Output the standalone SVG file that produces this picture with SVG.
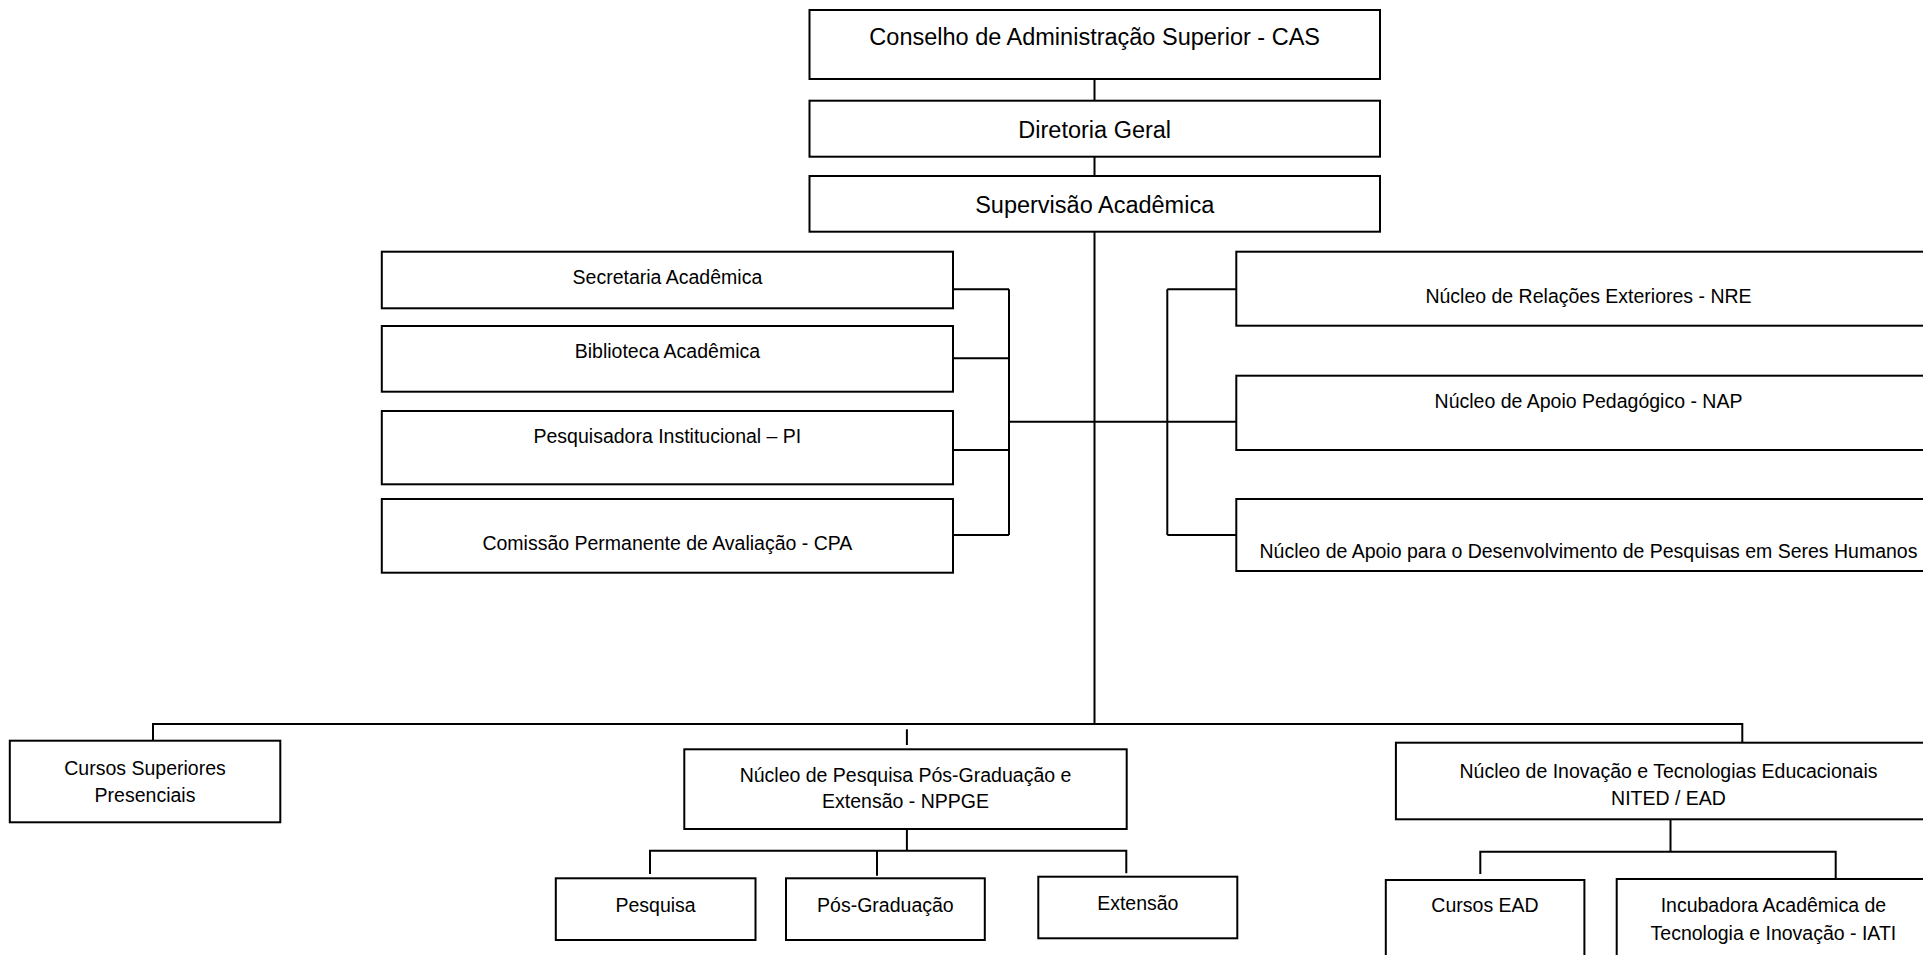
<svg xmlns="http://www.w3.org/2000/svg" width="1923" height="955" viewBox="0 0 1923 955">
<style>
.box{fill:#fff;stroke:#000;stroke-width:2}
.ln{fill:none;stroke:#000;stroke-width:2}
text{font-family:"Liberation Sans",Arial,sans-serif;fill:#000;text-anchor:middle}
.t1{font-size:23.5px}
.t2{font-size:19.5px}
</style>
<rect width="1923" height="955" fill="#fff"/>
<g id="connectors">
<path class="ln" d="M1094.5 79V100.7M1094.5 156.7V176M1094.5 231.7V725"/>
<path class="ln" d="M953 289.3H1009M953 358.3H1009M953 450H1009M953 535H1009M1009 289.3V535M1009 421.7H1094.5"/>
<path class="ln" d="M1094.5 421.7H1167.3M1167.3 289.3V535M1167.3 289.3H1236.3M1167.3 421.7H1236.3M1167.3 535H1236.3"/>
<path class="ln" d="M153 740.7V724H1742.3V742.7"/>
<path class="ln" d="M906.9 729.3V745"/>
<path class="ln" d="M906.9 829V850.7M650 874V850.7H1126.3V873.3M877 850.7V875.7"/>
<path class="ln" d="M1670.5 819.3V851.7M1480.3 874V851.7H1835.7V878.3"/>
</g>
<g id="n-cas"><rect class="box" x="809.5" y="10" width="570.5" height="69"/><text class="t1" x="1094.7" y="45">Conselho de Administração Superior - CAS</text></g>
<g id="n-diretoria"><rect class="box" x="809.5" y="100.7" width="570.5" height="56"/><text class="t1" x="1094.7" y="138.3">Diretoria Geral</text></g>
<g id="n-supervisao"><rect class="box" x="809.5" y="176" width="570.5" height="55.7"/><text class="t1" x="1094.7" y="213.3">Supervisão Acadêmica</text></g>
<g id="n-secretaria"><rect class="box" x="381.8" y="251.7" width="571.2" height="56.6"/><text class="t2" x="667.4" y="284.3">Secretaria Acadêmica</text></g>
<g id="n-biblioteca"><rect class="box" x="381.8" y="326" width="571.2" height="65.7"/><text class="t2" x="667.4" y="358.3">Biblioteca Acadêmica</text></g>
<g id="n-pi"><rect class="box" x="381.8" y="411" width="571.2" height="73.3"/><text class="t2" x="667.4" y="443.3">Pesquisadora Institucional – PI</text></g>
<g id="n-cpa"><rect class="box" x="381.8" y="499" width="571.2" height="73.7"/><text class="t2" x="667.4" y="550">Comissão Permanente de Avaliação - CPA</text></g>
<g id="n-nre"><rect class="box" x="1236.3" y="251.7" width="704" height="74"/><text class="t2" x="1588.5" y="303.3">Núcleo de Relações Exteriores - NRE</text></g>
<g id="n-nap"><rect class="box" x="1236.3" y="375.7" width="704" height="74.3"/><text class="t2" x="1588.5" y="408.3">Núcleo de Apoio Pedagógico - NAP</text></g>
<g id="n-nad"><rect class="box" x="1236.3" y="499" width="704" height="72"/><text class="t2" x="1588.5" y="558.3">Núcleo de Apoio para o Desenvolvimento de Pesquisas em Seres Humanos</text></g>
<g id="n-cursos-sup"><rect class="box" x="9.8" y="740.7" width="270.5" height="81.6"/><text class="t2" x="145" y="775">Cursos Superiores</text><text class="t2" x="145" y="801.7">Presenciais</text></g>
<g id="n-nppge"><rect class="box" x="684.3" y="749.3" width="442.4" height="79.7"/><text class="t2" x="905.5" y="781.7">Núcleo de Pesquisa Pós-Graduação e</text><text class="t2" x="905.5" y="808.3">Extensão - NPPGE</text></g>
<g id="n-nited"><rect class="box" x="1395.9" y="742.7" width="545" height="76.6"/><text class="t2" x="1668.5" y="778.3">Núcleo de Inovação e Tecnologias Educacionais</text><text class="t2" x="1668.5" y="805">NITED / EAD</text></g>
<g id="n-pesquisa"><rect class="box" x="555.8" y="878.3" width="199.7" height="61.7"/><text class="t2" x="655.6" y="911.7">Pesquisa</text></g>
<g id="n-posgrad"><rect class="box" x="786" y="878.3" width="198.8" height="61.7"/><text class="t2" x="885.4" y="911.7">Pós-Graduação</text></g>
<g id="n-extensao"><rect class="box" x="1038.3" y="876.7" width="199" height="61.6"/><text class="t2" x="1137.8" y="910">Extensão</text></g>
<g id="n-cursos-ead"><rect class="box" x="1385.8" y="880" width="198.6" height="90"/><text class="t2" x="1485" y="912.3">Cursos EAD</text></g>
<g id="n-iati"><rect class="box" x="1616.7" y="879" width="318" height="91"/><text class="t2" x="1773.4" y="912.3">Incubadora Acadêmica de</text><text class="t2" x="1773.4" y="940">Tecnologia e Inovação - IATI</text></g>
</svg>
